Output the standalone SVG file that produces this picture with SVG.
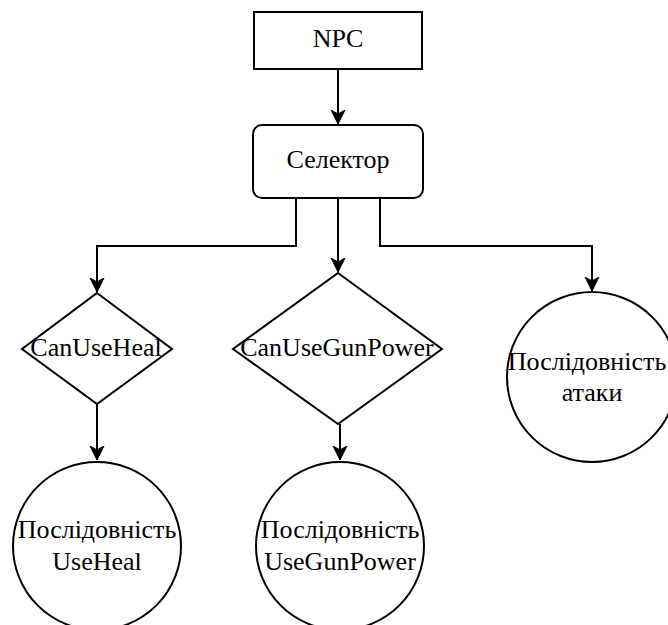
<svg xmlns="http://www.w3.org/2000/svg" width="668" height="625" viewBox="0 0 668 625">
<style>
.s{fill:#fff;stroke:#000;stroke-width:2}
.c{fill:none;stroke:#000;stroke-width:2;marker-end:url(#a)}
.t{font-family:'Liberation Serif','Times New Roman','DejaVu Serif',serif;font-size:26px;fill:#000;text-anchor:middle}
</style>
<defs>
<marker id="a" markerUnits="userSpaceOnUse" markerWidth="16" markerHeight="16" viewBox="-14 -8 16 16" refX="0" refY="0" orient="auto">
<path d="M0,0 L-14,-7 L-10,0 L-14,7 Z" fill="#000" stroke="#000" stroke-width="1"/>
</marker>
</defs>
<rect width="668" height="625" fill="#fff"/>
<g id="connectors">
<path class="c" d="M338,69 V124"/>
<path class="c" d="M296,198 V246 H97 V292"/>
<path class="c" d="M338,198 V272"/>
<path class="c" d="M380,198 V246 H592 V291"/>
<path class="c" d="M97,404 V460"/>
<path class="c" d="M340,424 V460"/>
</g>
<g id="npc"><rect class="s" x="254" y="12" width="168" height="57"/><text class="t" x="338" y="47" font-family="Liberation Serif">NPC</text></g>
<g id="selector"><rect class="s" x="253" y="125" width="170" height="73" rx="9"/><text class="t" x="338" y="168">Селектор</text></g>
<g id="canUseHeal"><path class="s" d="M97,293 L172,349 L97,404 L22,349 Z"/><text class="t" x="96" y="356">CanUseHeal</text></g>
<g id="canUseGunPower"><path class="s" d="M338,273 L442,349 L338,424 L233,349 Z"/><text class="t" x="337" y="356">CanUseGunPower</text></g>
<g id="attackSeq"><circle class="s" cx="592" cy="377" r="85"/><text class="t" x="587" y="370">Послідовність</text><text class="t" x="592" y="401">атаки</text></g>
<g id="useHealSeq"><circle class="s" cx="97" cy="546" r="84"/><text class="t" x="97" y="538">Послідовність</text><text class="t" x="97" y="570">UseHeal</text></g>
<g id="useGunPowerSeq"><circle class="s" cx="340" cy="546" r="84"/><text class="t" x="340" y="538">Послідовність</text><text class="t" x="340" y="570">UseGunPower</text></g>
</svg>
